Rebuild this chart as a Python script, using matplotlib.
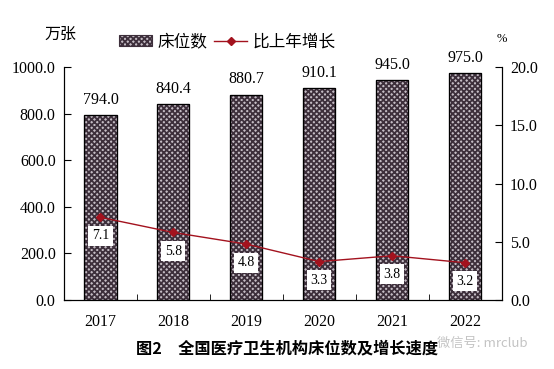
import matplotlib.pyplot as plt

plt.rcParams['font.family'] = ['Liberation Serif', 'Noto Sans CJK SC']
plt.rcParams['hatch.linewidth'] = 1.3

years = ['2017', '2018', '2019', '2020', '2021', '2022']
beds = [794.0, 840.4, 880.7, 910.1, 945.0, 975.0]
growth = [7.1, 5.8, 4.8, 3.3, 3.8, 3.2]

fig = plt.figure(figsize=(5.54, 3.69), dpi=100)
ax = fig.add_axes([0.1155, 0.187, 0.79, 0.631])
ax2 = ax.twinx()

x = list(range(len(years)))
ax.bar(x, beds, width=0.44, facecolor='#c4bcc4', edgecolor='#3d2f3b',
       hatch='xxxxxx', linewidth=0.8, label='床位数')
ax.bar(x, beds, width=0.44, facecolor='none', edgecolor='black', linewidth=0.9)
for xi, v in zip(x, beds):
    ax.text(xi, v + 32, f'{v:.1f}', ha='center', va='bottom', fontsize=11.5)

ax2.plot(x, growth, color='#a3121e', marker='D', markersize=4.5, linewidth=1.0,
         label='比上年增长')
for xi, v in zip(x, growth):
    ax2.text(xi, v - 1.6, f'{v:.1f}', ha='center', va='center', fontsize=10,
             bbox=dict(facecolor='white', edgecolor='none', pad=2.5))

ax.set_xlim(-0.5, len(years) - 0.5)
ax.set_ylim(0, 1000)
ax2.set_ylim(0, 20)
ax.set_yticks([0, 200, 400, 600, 800, 1000])
ax.set_yticklabels([f'{v:.1f}' for v in [0, 200, 400, 600, 800, 1000]])
ax2.set_yticks([0, 5, 10, 15, 20])
ax2.set_yticklabels([f'{v:.1f}' for v in [0, 5, 10, 15, 20]])
ax.set_xticks(x)
ax.set_xticklabels(years)
ax.set_xticks([i + 0.5 for i in x[:-1]], minor=True)

for a in (ax, ax2):
    a.spines['top'].set_visible(False)
    a.tick_params(axis='y', direction='in', length=5, labelsize=11.5, pad=6)
ax.tick_params(axis='x', which='major', length=0, labelsize=11.5, pad=10)
ax.tick_params(axis='x', which='minor', direction='in', length=4)

fig.text(0.081, 0.905, '万张', fontsize=11.5, ha='left', va='center')
fig.text(0.897, 0.895, '%', fontsize=9, ha='left', va='center')

h1, l1 = ax.get_legend_handles_labels()
h2, l2 = ax2.get_legend_handles_labels()
fig.legend(h1 + h2, l1 + l2, loc='center', bbox_to_anchor=(0.41, 0.885), ncol=2,
           frameon=False, fontsize=12, handlelength=2.0, columnspacing=0.4,
           handletextpad=0.3)

fig.text(0.518, 0.057, '图2　全国医疗卫生机构床位数及增长速度', fontsize=11.7,
         fontweight='bold', ha='center', va='center',
         family=['Noto Sans CJK SC', 'DejaVu Sans'])
fig.text(0.87, 0.068, '微信号: mrclub', fontsize=9.5, color='#c4c4c4', ha='center',
         va='center', family=['Noto Sans CJK SC', 'DejaVu Sans'])

fig.savefig('out.png', dpi=100)
